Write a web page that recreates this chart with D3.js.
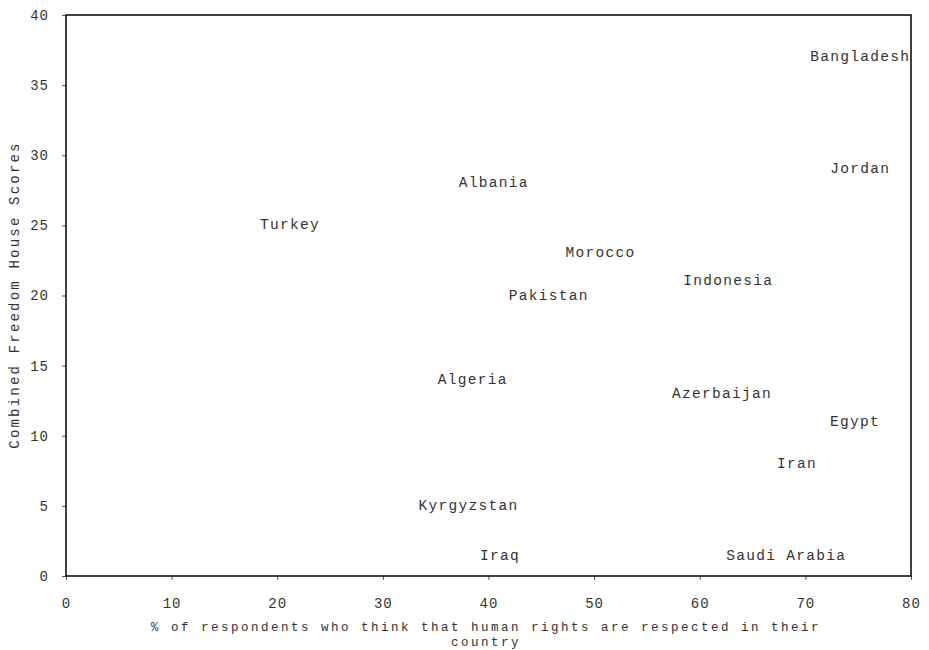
<!DOCTYPE html>
<html><head><meta charset="utf-8">
<script src="https://d3js.org/d3.v7.min.js"></script>
<style>
body{margin:0;background:#fff;}
text{font-family:"Liberation Mono","Courier New",monospace;fill:#333;}
</style></head>
<body><svg id="c" width="929" height="650"></svg>
<script>
const countries = ["Bangladesh","Jordan","Albania","Turkey","Morocco","Indonesia","Pakistan","Algeria","Azerbaijan","Egypt","Iran","Kyrgyzstan","Iraq","Saudi Arabia"];
const respectPct = [75.2,75.2,40.5,21.2,50.6,62.7,45.7,38.5,62.1,74.7,69.2,38.1,41.1,68.2];
const freedomScore = [37,29,28,25,23,21,20,14,13,11,8,5,1.4,1.4];
const xTicks = [0,10,20,30,40,50,60,70,80];
const yTicks = [0,5,10,15,20,25,30,35,40];

const svg = d3.select("#c");
const m = {l:66, r:911, t:15, b:576};
const x = d3.scaleLinear().domain([0,80]).range([m.l,m.r]);
const y = d3.scaleLinear().domain([0,40]).range([m.b,m.t]);

const gx = svg.append("g").attr("transform",`translate(0,${m.b})`)
  .call(d3.axisBottom(x).tickValues(xTicks).tickSize(4).tickPadding(18));
const gy = svg.append("g").attr("transform",`translate(${m.l},0)`)
  .call(d3.axisLeft(y).tickValues(yTicks).tickSize(4).tickPadding(13));
[gx,gy].forEach(g=>{
  g.select(".domain").remove();
  g.selectAll("line").attr("stroke","#555");
  g.selectAll("text").style("font-family",'"Liberation Mono","Courier New",monospace')
   .style("font-size","14px").style("letter-spacing","1px").attr("fill","#444");
});

svg.append("rect").attr("x",m.l).attr("y",m.t).attr("width",m.r-m.l).attr("height",m.b-m.t)
  .attr("fill","none").attr("stroke","#111").attr("stroke-width",1.6);

svg.append("g").selectAll("text").data(countries).join("text")
  .attr("x",(d,i)=>x(respectPct[i]))
  .attr("y",(d,i)=>y(freedomScore[i]))
  .attr("text-anchor","middle").attr("dominant-baseline","central")
  .style("font-size","14.5px").style("letter-spacing","1.3px")
  .text(d=>d);

svg.append("text").attr("transform","translate(15,295) rotate(-90)")
  .attr("text-anchor","middle").attr("dominant-baseline","central")
  .style("font-size","14px").style("letter-spacing","2.2px")
  .text("Combined Freedom House Scores");
svg.append("text").attr("x",486).attr("y",631).attr("text-anchor","middle")
  .style("font-size","12.5px").style("letter-spacing","2.5px")
  .text("% of respondents who think that human rights are respected in their");
svg.append("text").attr("x",486).attr("y",646).attr("text-anchor","middle")
  .style("font-size","12.5px").style("letter-spacing","2.5px")
  .text("country");
</script></body></html>
